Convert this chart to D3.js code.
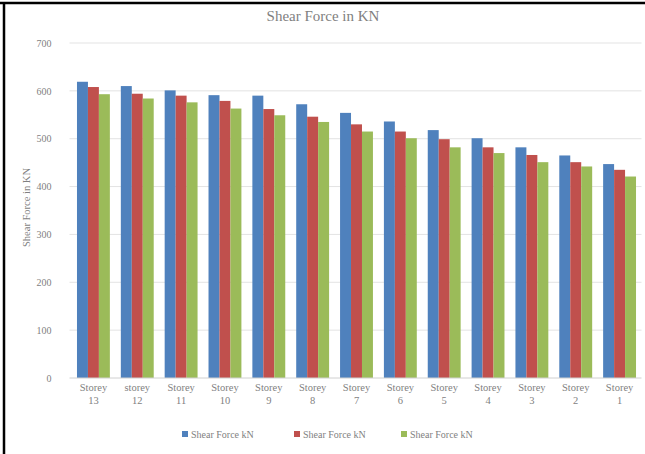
<!DOCTYPE html>
<html>
<head>
<meta charset="utf-8">
<script src="https://cdn.jsdelivr.net/npm/d3@7"></script>
<style>
  body { margin: 0; background: #fff; }
  text { font-family: "Liberation Serif", "DejaVu Serif", serif; fill: #7f7f7f; }
</style>
</head>
<body>
<div id="chart"></div>
<script>
// data
let storeys = ["Storey 13", "storey 12", "Storey 11", "Storey 10", "Storey 9", "Storey 8", "Storey 7",
               "Storey 6", "Storey 5", "Storey 4", "Storey 3", "Storey 2", "Storey 1"];
let seriesNames = ["Shear Force kN", "Shear Force kN", "Shear Force kN"];
let shearA = [619, 610, 601, 591, 590, 572, 554, 536, 518, 501, 482, 465, 447];
let shearB = [608, 594, 590, 579, 562, 546, 530, 515, 499, 482, 466, 451, 435];
let shearC = [593, 584, 576, 563, 549, 535, 515, 501, 482, 470, 451, 442, 421];
let yTicks = [0, 100, 200, 300, 400, 500, 600, 700];
let colors = ["#4F81BD", "#C0504D", "#9BBB59"];

let svgWidth = 645;
let svgHeight = 454;
let margin = { top: 43, right: 3.5, bottom: 76, left: 71.5 };
let plot_width = svgWidth - margin.left - margin.right;
let plot_height = svgHeight - margin.top - margin.bottom;

let svg = d3.select("#chart")
  .append("svg")
  .attr("width", svgWidth)
  .attr("height", svgHeight);

// outer frame lines (top + left)
svg.append("line").attr("x1", 0).attr("x2", svgWidth).attr("y1", 3).attr("y2", 3)
  .attr("stroke", "#000").attr("stroke-width", 2.5);
svg.append("line").attr("x1", 4).attr("x2", 4).attr("y1", 2).attr("y2", svgHeight)
  .attr("stroke", "#000").attr("stroke-width", 2.5);

let chartGroup = svg.append("g")
  .attr("transform", `translate(${margin.left}, ${margin.top})`);

let xScale = d3.scaleBand()
  .domain(storeys)
  .range([0, plot_width])
  .paddingInner(0.25)
  .paddingOuter(0.125);

let series = [shearA, shearB, shearC];
let xSub = d3.scaleBand()
  .domain(d3.range(series.length))
  .range([0, xScale.bandwidth()]);

let yScale = d3.scaleLinear()
  .domain([0, 700])
  .range([plot_height, 0]);

// gridlines
chartGroup.append("g")
  .selectAll("line")
  .data(yTicks.slice(1))
  .enter()
  .append("line")
  .attr("x1", -2)
  .attr("x2", plot_width)
  .attr("y1", d => yScale(d))
  .attr("y2", d => yScale(d))
  .attr("stroke", "#e3e3e3")
  .attr("stroke-width", 1);

// bars
series.forEach(function(vals, i) {
  chartGroup.append("g")
    .selectAll("rect")
    .data(vals)
    .enter()
    .append("rect")
    .attr("x", (d, j) => xScale(storeys[j]) + xSub(i))
    .attr("y", d => yScale(d))
    .attr("width", xSub.bandwidth())
    .attr("height", d => plot_height - yScale(d))
    .attr("fill", colors[i]);
});

// x axis line
chartGroup.append("line")
  .attr("x1", -2).attr("x2", plot_width)
  .attr("y1", plot_height).attr("y2", plot_height)
  .attr("stroke", "#d0d0d0");

// y tick labels
let leftAxis = d3.axisLeft(yScale).tickValues(yTicks).tickSize(0).tickPadding(20);
let yAxisG = chartGroup.append("g").call(leftAxis);
yAxisG.select(".domain").remove();
yAxisG.selectAll("text")
  .style("font-family", "Liberation Serif")
  .style("font-size", "10px")
  .attr("fill", "#8c8c8c");

// category labels, two lines
let catLabels = chartGroup.append("g")
  .selectAll("text")
  .data(storeys)
  .enter()
  .append("text")
  .attr("text-anchor", "middle")
  .attr("font-size", "10.5px")
  .attr("fill", "#8c8c8c")
  .attr("transform", d => `translate(${xScale(d) + xScale.bandwidth() / 2}, ${plot_height + 13})`);
catLabels.append("tspan").attr("x", 0).attr("dy", 0).text(d => d.split(" ")[0]);
catLabels.append("tspan").attr("x", 0).attr("dy", 13).text(d => d.split(" ")[1]);

// title
svg.append("text")
  .attr("x", 323)
  .attr("y", 21)
  .attr("text-anchor", "middle")
  .attr("font-size", "15px")
  .attr("fill", "#7a7a7a")
  .text("Shear Force in KN");

// y axis title
svg.append("text")
  .attr("transform", `translate(30, ${margin.top + plot_height / 2 - 3}) rotate(-90)`)
  .attr("text-anchor", "middle")
  .attr("font-size", "10.5px")
  .attr("fill", "#8c8c8c")
  .text("Shear Force in KN");

// legend
let legendX = [182, 294, 401];
let legend = svg.append("g")
  .selectAll("g")
  .data(seriesNames)
  .enter()
  .append("g")
  .attr("transform", (d, i) => `translate(${legendX[i]}, 431)`);
legend.append("rect")
  .attr("width", 6).attr("height", 6)
  .attr("fill", (d, i) => colors[i]);
legend.append("text")
  .attr("x", 9).attr("y", 6.5)
  .attr("font-size", "10px")
  .attr("fill", "#8c8c8c")
  .text(d => d);
</script>
</body>
</html>
